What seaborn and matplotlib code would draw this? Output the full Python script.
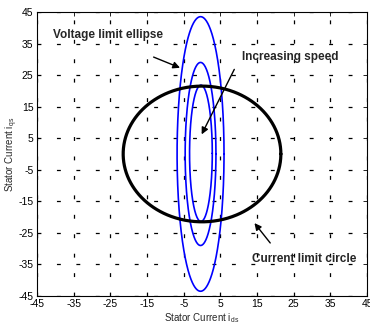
import numpy as np
import pandas as pd
import matplotlib
matplotlib.use("Agg")
import matplotlib.pyplot as plt
import seaborn as sns

# ---- data ----
ellipse_labels = ["speed 1", "speed 2", "speed 3"]
ellipse_center_x = [-0.4, -0.4, -0.3]
ellipse_center_y = [0.0, 0.0, 0.2]
ellipse_half_width = [6.4, 4.2, 3.1]
ellipse_half_height = [43.5, 29.0, 21.6]

circle_center = [0.0, 0.0]
circle_radius = 21.5

x_ticks = [-45, -35, -25, -15, -5, 5, 15, 25, 35, 45]
y_ticks = [-45, -35, -25, -15, -5, 5, 15, 25, 35, 45]

note_texts = ["Voltage limit ellipse", "Increasing speed", "Current limit circle"]
note_text_xy = [(-40.6, 37.7), (11.0, 30.8), (13.7, -33.3)]
note_tail_xy = [(-13.2, 30.7), (8.8, 26.8), (18.6, -28.2)]
note_tip_xy = [(-6.0, 27.3), (-0.1, 6.2), (14.3, -21.9)]

x_label = r"Stator Current i$_{\mathrm{ds}}$"
y_label = r"Stator Current i$_{\mathrm{qs}}$"

# ---- build curve tables ----
theta = np.linspace(0, 2 * np.pi, 721)
rows = []
for lab, cx, cy, a, b in zip(ellipse_labels, ellipse_center_x, ellipse_center_y,
                             ellipse_half_width, ellipse_half_height):
    rows.append(pd.DataFrame({"curve": lab, "ids": cx + a * np.cos(theta),
                              "iqs": cy + b * np.sin(theta)}))
ell_df = pd.concat(rows, ignore_index=True)
circ_df = pd.DataFrame({"curve": "circle",
                        "ids": circle_center[0] + circle_radius * np.cos(theta),
                        "iqs": circle_center[1] + circle_radius * np.sin(theta)})

sns.set_style("white")
plt.rcParams["font.family"] = ["Liberation Sans", "DejaVu Sans"]
plt.rcParams["mathtext.fontset"] = "custom"
plt.rcParams["mathtext.rm"] = "Liberation Sans"
plt.rcParams["mathtext.it"] = "Liberation Sans:italic"
plt.rcParams["lines.scale_dashes"] = False

fig = plt.figure(figsize=(3.70, 3.28), dpi=100)
ax = fig.add_axes([0.100, 0.0976, 0.892, 0.866])

for lab in ellipse_labels:
    sub = ell_df[ell_df["curve"] == lab]
    sns.lineplot(data=sub, x="ids", y="iqs", sort=False, estimator=None,
                 color="#0000ff", linewidth=1.2, ax=ax, zorder=3)
sns.lineplot(data=circ_df, x="ids", y="iqs", sort=False, estimator=None,
             color="black", linewidth=2.3, ax=ax, zorder=4)

ax.set_xlim(-45, 45)
ax.set_ylim(-45, 45)
ax.set_xticks(x_ticks)
ax.set_yticks(y_ticks)
ax.set_xticklabels([str(t) for t in x_ticks])
ax.set_yticklabels([str(t) for t in y_ticks])
ax.grid(True, color="black", linewidth=0.9, linestyle=(0, (2.8, 11.2)))
ax.set_axisbelow(True)
ax.tick_params(direction="in", length=3, width=0.6, top=True, right=True,
               labelsize=7.5, pad=2.5, colors="black")
for sp in ax.spines.values():
    sp.set_visible(True)
    sp.set_color("black")
    sp.set_linewidth(0.8)

ax.set_xlabel(x_label, fontsize=7, labelpad=1.5)
ax.set_ylabel(y_label, fontsize=7, labelpad=-1)

for txt, txy, tail, tip in zip(note_texts, note_text_xy, note_tail_xy, note_tip_xy):
    ax.text(txy[0], txy[1], txt, fontsize=8.5, fontweight="bold",
            ha="left", va="center", zorder=6)
    ax.annotate("", xy=tip, xytext=tail,
                arrowprops=dict(arrowstyle="-|>", color="black", lw=1.0,
                                mutation_scale=10, shrinkA=0, shrinkB=0),
                zorder=6)

leg = ax.get_legend()
if leg is not None:
    leg.remove()

fig.savefig("out.png", dpi=100)
